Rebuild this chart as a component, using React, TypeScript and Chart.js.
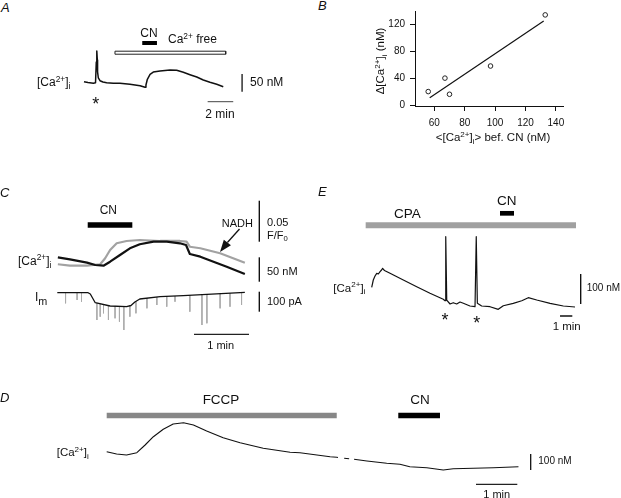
import React, { useEffect, useRef } from "react";
import { Chart, registerables } from "chart.js";

Chart.register(...registerables);

const FONT = '"Liberation Sans", Arial, Helvetica, sans-serif';

// ===== Panel A : [Ca2+]i (nM) vs time (min) =====
const aTime = [0, 0.31, 0.73, 0.9, 0.96, 1.0, 1.04, 1.06, 1.12, 1.25, 1.48, 1.77, 2.29, 2.81, 3.59, 4.38, 4.77, 4.84, 4.95, 5.16, 5.41, 5.94, 6.72, 7.24, 7.76, 8.28, 8.81, 9.32, 9.84, 10.37, 10.88];
const aCa = [66.5, 64.2, 62.0, 63.4, 122.0, 153.0, 128.0, 94.0, 77.0, 69.3, 65.6, 63.7, 62.0, 62.0, 59.2, 55.2, 50.7, 57.2, 73.3, 87.4, 93.8, 96.7, 99.5, 98.6, 93.0, 86.2, 79.7, 71.3, 64.8, 59.2, 52.4];
const aCaFreePeriod = [2.42, 11.07];
const aCNPeriod = [4.55, 5.7];

// ===== Panel B : scatter =====
const bCaBefore = [56, 67, 70, 97, 133];
const bDeltaCa = [20, 40, 16, 58, 134];
const bFitX = [57, 132];
const bFitY = [11, 125];
const bXTicks = [60, 80, 100, 120, 140];
const bYTicks = [0, 40, 80, 120];

// ===== Panel C =====
const cTime = [0.01, 0.23, 0.54, 0.69, 0.84, 0.96, 1.14, 1.32, 1.5, 1.75, 1.99, 2.23, 2.34, 2.41, 2.6, 2.84, 3.08, 3.41];
const cCa = [97.8, 93.7, 86.8, 82.0, 80.6, 88.8, 102.5, 116.3, 124.5, 129.8, 129.8, 126.5, 123.0, 104.6, 99.1, 88.8, 78.6, 63.6];
const cNadhTime = [0.01, 0.23, 0.54, 0.78, 0.87, 0.96, 1.08, 1.26, 1.5, 1.87, 2.23, 2.35, 2.41, 2.6, 2.96, 3.41];
const cNadh = [1.0009, 0.9992, 0.9992, 1.0009, 1.0082, 1.0183, 1.0265, 1.0293, 1.0305, 1.0293, 1.0293, 1.0284, 1.0223, 1.0204, 1.0143, 1.0028];
const cImTime = [0, 0.56, 0.6, 0.69, 0.96, 1.26, 1.34, 1.41, 1.5, 1.87, 2.29, 2.72, 3.41];
const cIm = [0, 0, -6.5, -50, -66.5, -70, -64, -46.5, -31.5, -20, -15, -8, 2];
const cSpikeTime = [0.15, 0.36, 0.44, 0.72, 0.78, 0.84, 0.93, 1.05, 1.13, 1.21, 1.32, 1.43, 1.63, 1.81, 1.99, 2.14, 2.41, 2.63, 2.72, 2.96, 3.14, 3.35];
const cSpikePeak = [-53, -36.5, -45, -136.5, -120, -103, -136.5, -128, -145, -186.5, -120, -103, -78, -61.5, -70, -45, -95, -161.5, -153, -78, -70, -61.5];
const cCNPeriod = [0.553, 1.364];

// ===== Panel D =====
const dTime = [0, 0.24, 0.48, 0.73, 0.93, 1.13, 1.37, 1.61, 1.86, 2.1, 2.42, 2.82, 3.23, 3.79, 4.44, 4.68, 5.09, 5.41, 5.57, 5.6, 5.67, 5.75, 5.87, 5.93, 5.99, 6.3, 6.78, 7.1, 7.34, 7.75, 8.15, 8.39, 8.88, 9.36, 9.97];
const dCa = [170.6, 156.3, 150, 164.4, 212.5, 264.4, 310.6, 343.8, 351.9, 337.5, 300, 258.1, 226.9, 191.9, 166.9, 164.4, 150, 139.4, 135.6, 134.4, null, 130, 126.3, null, 123.1, 112.5, 98.1, 91.9, 76.9, 70.6, 56.3, 64.4, 66.9, 70.6, 76.9];
const dFCCPPeriod = [0, 5.57];
const dCNPeriod = [7.06, 8.07];

// ===== Panel E =====
const eTime = [0, 0.13, 0.27, 0.41, 0.54, 0.68, 0.8, 0.89, 1.0, 1.08, 1.49, 2.57, 3.66, 4.74, 5.82, 5.96, 6.02, 6.1, 6.37, 6.63, 6.91, 7.18, 7.45, 7.99, 8.4, 8.5, 8.59, 8.94, 9.62, 10.29, 10.7, 11.51, 12.2, 12.73, 13.42, 14.5, 15.58, 16.53];
const eCa = [115.7, 140, 153.3, 162.3, 160, 167.7, 173.3, 179, 173.3, 171, 162.3, 140, 117.7, 95.7, 75.7, 71, 284.3, 73.3, 60, 64.3, 60, 66.7, 62.3, 53.3, 51, 284.3, 62.3, 53.3, 51, 42.3, 54.3, 62.3, 71, 81, 73.3, 62.3, 53.3, 50];
const eCPAPeriod = [-0.49, 16.61];
const eCNPeriod = [10.43, 11.57];

// ---------- helpers ----------
type Frame = { left: number; top: number; width: number; height: number };
type P = { x: number; y: number | null };

const pts = (xs: number[], ys: (number | null)[]): P[] => xs.map((x, i) => ({ x, y: ys[i] }));
const hseg = (period: number[], level: number): P[] => [
  { x: period[0], y: level },
  { x: period[1], y: level },
];
const vseg = (x: number, y0: number, len: number): P[] => [
  { x, y: y0 },
  { x, y: y0 + len },
];
const rect = (period: number[], y0: number, y1: number): P[] => [
  { x: period[0], y: y0 },
  { x: period[1], y: y0 },
  { x: period[1], y: y1 },
  { x: period[0], y: y1 },
  { x: period[0], y: y0 },
];
const interp = (xs: number[], ys: number[], t: number) => {
  for (let i = 1; i < xs.length; i++) {
    if (t <= xs[i]) {
      const f = (t - xs[i - 1]) / (xs[i] - xs[i - 1]);
      return ys[i - 1] + f * (ys[i] - ys[i - 1]);
    }
  }
  return ys[ys.length - 1];
};

function hScale(start: number, len: number, refPix: number, refVal: number, ppu: number) {
  const min = refVal - (refPix - start) / ppu;
  return { type: "linear", display: false, min, max: min + len / ppu };
}
function vScale(start: number, len: number, refPix: number, refVal: number, ppu: number) {
  const max = refVal + (refPix - start) / ppu;
  return { type: "linear", display: false, min: max - len / ppu, max };
}

const ds = (data: P[], color: string, width: number, yAxisID = "y") => ({
  data,
  borderColor: color,
  backgroundColor: color,
  borderWidth: width,
  pointRadius: 0,
  pointHoverRadius: 0,
  tension: 0,
  fill: false,
  spanGaps: false,
  yAxisID,
  borderCapStyle: "butt",
  borderJoinStyle: "round",
});

function traceConfig(datasets: any[], scales: any) {
  return {
    type: "line",
    data: { datasets },
    options: {
      responsive: false,
      animation: false,
      events: [],
      layout: { padding: 0 },
      plugins: { legend: { display: false }, tooltip: { enabled: false } },
      scales,
    },
  };
}

function ChartCanvas({ frame, build }: { frame: Frame; build: () => any }) {
  const ref = useRef<HTMLCanvasElement | null>(null);
  useEffect(() => {
    if (!ref.current) return;
    const chart = new Chart(ref.current, build());
    return () => chart.destroy();
  }, []);
  return (
    <canvas
      ref={ref}
      width={frame.width}
      height={frame.height}
      style={{ position: "absolute", left: frame.left, top: frame.top, width: frame.width, height: frame.height }}
    />
  );
}

// ---------- panel frames & annotation levels ----------
const FA: Frame = { left: 0, top: 20, width: 320, height: 100 };
const FB: Frame = { left: 330, top: 0, width: 291, height: 160 };
const FC: Frame = { left: 0, top: 195, width: 320, height: 150 };
const FE: Frame = { left: 330, top: 195, width: 291, height: 140 };
const FD: Frame = { left: 0, top: 390, width: 621, height: 108 };

function buildA() {
  const scales = {
    x: hScale(FA.left, FA.width, 84, 0, 12.8),
    y: vScale(FA.top, FA.height, 84, 60, 1 / 2.82),
  };
  return traceConfig(
    [
      ds(pts(aTime, aCa), "#111", 1.5),
      ds(hseg(aCNPeriod, 175.6), "#000", 4),
      ds(rect(aCaFreePeriod, 152.5, 144), "#222", 1),
      ds(vseg(12.35, 38.3, 50), "#111", 1.3),
      ds(hseg([9.66, 11.66], 10.1), "#444", 1),
    ],
    scales
  );
}

function buildB() {
  const tickFont = { family: FONT, size: 10 };
  return {
    type: "scatter",
    data: {
      datasets: [
        {
          data: pts(bFitX, bFitY),
          showLine: true,
          borderColor: "#111",
          borderWidth: 1.2,
          pointRadius: 0,
        },
        {
          data: pts(bCaBefore, bDeltaCa),
          showLine: false,
          pointRadius: 2.3,
          pointBorderWidth: 1,
          pointBorderColor: "#222",
          pointBackgroundColor: "rgba(255,255,255,0)",
        },
      ],
    },
    options: {
      responsive: false,
      animation: false,
      events: [],
      layout: { padding: { left: 39, right: 58, top: 8, bottom: 0 } },
      plugins: { legend: { display: false }, tooltip: { enabled: false } },
      scales: {
        x: {
          type: "linear",
          min: 47.3,
          max: 144.7,
          afterBuildTicks: (s: any) => {
            s.ticks = bXTicks.map((v) => ({ value: v }));
          },
          afterFit: (s: any) => {
            s.height = 54;
          },
          grid: { drawOnChartArea: false, tickLength: 5, color: "#111", lineWidth: 1 },
          border: { display: true, color: "#111", width: 1 },
          ticks: { padding: 6, color: "#111", font: tickFont, maxRotation: 0, autoSkip: false },
        },
        y: {
          type: "linear",
          min: -1.44,
          max: 139.8,
          afterBuildTicks: (s: any) => {
            s.ticks = bYTicks.map((v) => ({ value: v }));
          },
          afterFit: (s: any) => {
            s.width = 46;
          },
          grid: { drawOnChartArea: false, tickLength: 5, color: "#111", lineWidth: 1 },
          border: { display: true, color: "#111", width: 1 },
          ticks: { padding: 5, color: "#111", font: tickFont, autoSkip: false },
        },
      },
    },
  };
}

function buildC() {
  const scales = {
    x: hScale(FC.left, FC.width, 57.3, 0, 55),
    y: vScale(FC.top, FC.height, 266, 80, 0.488),
    yN: vScale(FC.top, FC.height, 265, 1, 820),
    yI: vScale(FC.top, FC.height, 292.7, 0, 0.2),
  };
  const spikes: P[] = cSpikeTime.flatMap((t, i) => [
    { x: t, y: interp(cImTime, cIm, t) },
    { x: t, y: cSpikePeak[i] },
    { x: t, y: null },
  ]);
  return traceConfig(
    [
      ds(pts(cImTime, cIm), "#111", 1.3, "yI"),
      ds(pts(cTime, cCa), "#111", 2.2, "y"),
      ds(pts(cNadhTime, cNadh), "#a2a2a2", 2.2, "yN"),
      ds(spikes, "#ababab", 1, "yI"),
      ds(hseg(cCNPeriod, 164), "#000", 5.3, "y"),
      ds(vseg(3.673, 1.0284, 0.05), "#111", 1.4, "yN"),
      ds(vseg(3.673, 47.8, 50), "#111", 1.4, "y"),
      ds(vseg(3.673, -95, 100), "#111", 1.4, "yI"),
      ds(hseg([2.4855, 3.4855], -208), "#222", 1.2, "yI"),
    ],
    scales
  );
}

function buildE() {
  const scales = {
    x: hScale(FE.left, FE.width, 371.7, 0, 12.3),
    y: vScale(FE.top, FE.height, 307, 50, 0.3),
  };
  return traceConfig(
    [
      ds(pts(eTime, eCa), "#111", 1.2),
      ds(hseg(eCPAPeriod, 322.3), "#a0a0a0", 6),
      ds(hseg(eCNPeriod, 362.3), "#000", 4.7),
      ds(vseg(16.99, 60, 100), "#111", 1.4),
      ds(hseg([15.31, 16.31], 20), "#111", 1.5),
    ],
    scales
  );
}

function buildD() {
  const scales = {
    x: hScale(FD.left, FD.width, 106.7, 0, 41.3),
    y: vScale(FD.top, FD.height, 455, 150, 0.16),
  };
  return traceConfig(
    [
      ds(pts(dTime, dCa), "#111", 1.1),
      ds(hseg(dFCCPPeriod, 396.9), "#878787", 5.6),
      ds(hseg(dCNPeriod, 396.9), "#000", 5.6),
      ds(vseg(10.266, 56.25, 100), "#111", 1.3),
      ds(hseg([8.942, 9.942], -33.1), "#222", 1.2),
    ],
    scales
  );
}

// ---------- text ----------
const Sup = ({ children }: any) => (
  <span style={{ fontSize: "0.7em", position: "relative", top: "-0.55em" }}>{children}</span>
);
const Sub = ({ children, scale = 0.7 }: any) => (
  <span style={{ fontSize: `${scale}em`, position: "relative", top: "0.35em" }}>{children}</span>
);
const CaI = () => (
  <>
    [Ca<Sup>2+</Sup>]<Sub>i</Sub>
  </>
);

function Label({ x, y, size = 12, align = "left", italic = false, children }: any) {
  const shift = align === "center" ? "translateX(-50%)" : align === "right" ? "translateX(-100%)" : "none";
  return (
    <div
      style={{
        position: "absolute",
        left: x,
        top: y - 0.4885 * size,
        fontSize: size,
        lineHeight: 1,
        fontStyle: italic ? "italic" : "normal",
        whiteSpace: "nowrap",
        transform: shift,
        color: "#111",
      }}
    >
      {children}
    </div>
  );
}

const Star = ({ x, y }: { x: number; y: number }) => (
  <Label x={x} y={y + 0.22 * 18} size={18} align="center">
    *
  </Label>
);

export default function App() {
  return (
    <div
      style={{
        position: "absolute",
        left: 0,
        top: 0,
        width: 621,
        height: 498,
        background: "#fff",
        fontFamily: FONT,
        overflow: "hidden",
      }}
    >
      <ChartCanvas frame={FA} build={buildA} />
      <ChartCanvas frame={FB} build={buildB} />
      <ChartCanvas frame={FC} build={buildC} />
      <ChartCanvas frame={FE} build={buildE} />
      <ChartCanvas frame={FD} build={buildD} />

      {/* Panel A */}
      <Label x={1} y={7} size={13} italic>A</Label>
      <Label x={149} y={33} size={12} align="center">CN</Label>
      <Label x={168} y={39} size={12}>
        Ca<Sup>2+</Sup> free
      </Label>
      <Label x={37} y={82} size={12}><CaI /></Label>
      <Star x={95.7} y={100} />
      <Label x={250} y={81.7} size={12}>50 nM</Label>
      <Label x={220} y={114.3} size={12} align="center">2 min</Label>

      {/* Panel B */}
      <Label x={318} y={5} size={13} italic>B</Label>
      <div
        style={{
          position: "absolute",
          left: 381,
          top: 61,
          fontSize: 11.5,
          lineHeight: 1,
          whiteSpace: "nowrap",
          color: "#111",
          transform: "translate(-50%, -50%) rotate(-90deg)",
        }}
      >
        Δ<CaI /> (nM)
      </div>
      <Label x={493} y={138} size={11.5} align="center">
        &lt;<CaI />&gt; bef. CN (nM)
      </Label>

      {/* Panel C */}
      <Label x={0} y={192} size={13} italic>C</Label>
      <Label x={108.3} y={210} size={12} align="center">CN</Label>
      <Label x={18} y={260.7} size={12}><CaI /></Label>
      <Label x={35} y={296.7} size={12}>
        I<Sub scale={0.9}>m</Sub>
      </Label>
      <Label x={221.7} y={223.3} size={11}>NADH</Label>
      <Label x={267} y={222.7} size={11}>0.05</Label>
      <Label x={267} y={235} size={11}>
        F/F<Sub>0</Sub>
      </Label>
      <Label x={267} y={271.7} size={11}>50 nM</Label>
      <Label x={267} y={301.7} size={11}>100 pA</Label>
      <Label x={220.7} y={345.7} size={11} align="center">1 min</Label>

      {/* Panel E */}
      <Label x={318} y={191} size={13} italic>E</Label>
      <Label x={407.3} y={213.3} size={13.5} align="center">CPA</Label>
      <Label x={506.7} y={200.7} size={13.5} align="center">CN</Label>
      <Label x={333.3} y={288.3} size={11.5}><CaI /></Label>
      <Star x={445} y={316} />
      <Star x={476.7} y={319.3} />
      <Label x={586.7} y={288.3} size={10}>100 nM</Label>
      <Label x={566.7} y={326.7} size={11.5} align="center">1 min</Label>

      {/* Panel D */}
      <Label x={0} y={397} size={13} italic>D</Label>
      <Label x={221} y={400} size={13.5} align="center">FCCP</Label>
      <Label x={420} y={400} size={13.5} align="center">CN</Label>
      <Label x={56.7} y={452.7} size={11.5}><CaI /></Label>
      <Label x={538.3} y={461} size={10}>100 nM</Label>
      <Label x={496.7} y={494} size={11} align="center">1 min</Label>

      {/* NADH arrow annotation */}
      <svg
        width={621}
        height={498}
        style={{ position: "absolute", left: 0, top: 0, pointerEvents: "none" }}
      >
        <line x1={239.5} y1={229} x2={227.4} y2={242.5} stroke="#111" strokeWidth={1.3} />
        <polygon points="220,252 230.95,245.27 223.85,239.73" fill="#111" />
      </svg>
    </div>
  );
}
